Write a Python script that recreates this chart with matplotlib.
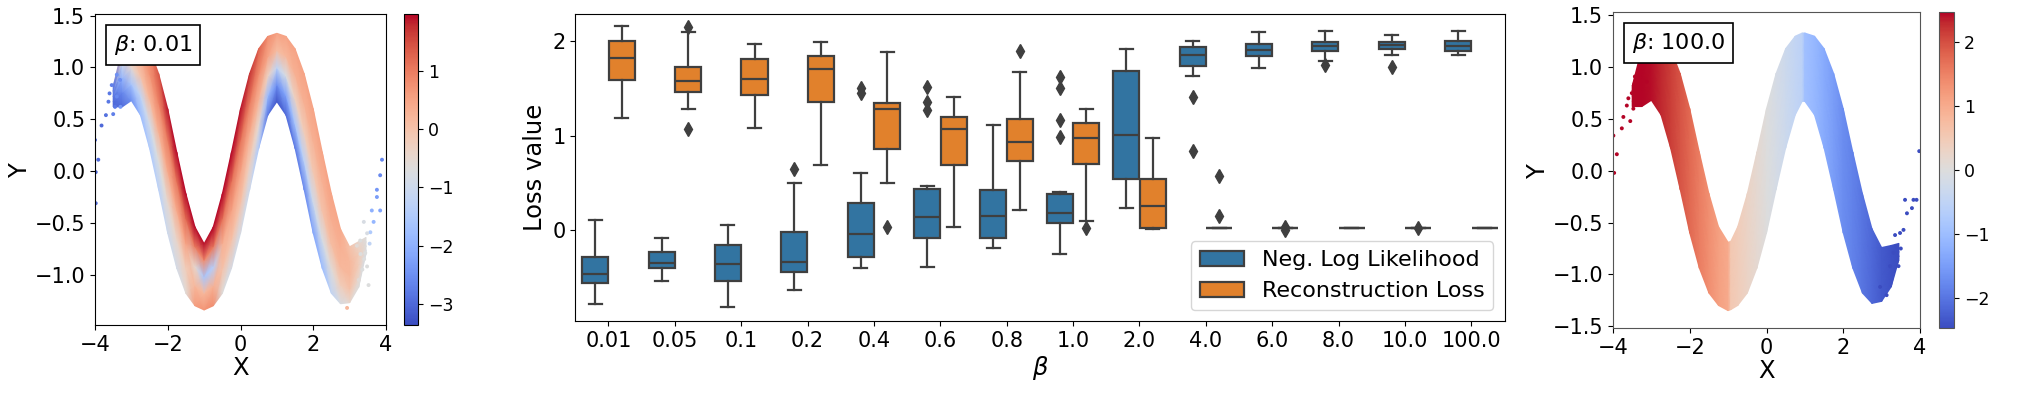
import numpy as np
import matplotlib
matplotlib.use("Agg")
import matplotlib.pyplot as plt
from matplotlib.offsetbox import AnchoredText
from matplotlib.patches import Patch

# ---------------- middle panel: box statistics ----------------
betas = ['0.01', '0.05', '0.1', '0.2', '0.4', '0.6', '0.8', '1.0', '2.0',
         '4.0', '6.0', '8.0', '10.0', '100.0']

nll_whislo = [-0.777, -0.537, -0.809, -0.629, -0.396, -0.385, -0.184, -0.251, 0.240,
              1.629, 1.714, 1.795, 1.852, 1.852]
nll_q1 = [-0.562, -0.403, -0.537, -0.442, -0.279, -0.081, -0.081, 0.078, 0.544,
          1.742, 1.848, 1.901, 1.922, 1.894]
nll_med = [-0.459, -0.350, -0.353, -0.332, -0.039, 0.141, 0.152, 0.177, 1.004,
           1.852, 1.912, 1.947, 1.958, 1.947]
nll_q3 = [-0.279, -0.226, -0.155, -0.014, 0.293, 0.438, 0.428, 0.385, 1.682,
          1.943, 1.972, 1.989, 1.989, 2.000]
nll_whishi = [0.113, -0.081, 0.057, 0.495, 0.608, 0.470, 1.117, 0.403, 1.922,
              2.007, 2.102, 2.113, 2.064, 2.113]
nll_fliers = [[], [], [], [0.647], [1.502, 1.452], [1.512, 1.357, 1.269], [],
              [1.618, 1.505, 1.163, 0.986], [], [1.413, 0.834], [], [1.746], [1.724], []]

rec_whislo = [1.184, 1.283, 1.078, 0.686, 0.502, 0.035, 0.216, 0.099, 0.014,
              0.020, 0.018, 0.018, 0.018, 0.018]
rec_q1 = [1.594, 1.466, 1.435, 1.360, 0.862, 0.686, 0.735, 0.703, 0.021,
          0.020, 0.018, 0.018, 0.018, 0.018]
rec_med = [1.820, 1.580, 1.604, 1.703, 1.283, 1.067, 0.936, 0.972, 0.251,
           0.020, 0.018, 0.018, 0.018, 0.018]
rec_q3 = [2.007, 1.724, 1.816, 1.848, 1.350, 1.201, 1.173, 1.138, 0.544,
          0.020, 0.018, 0.018, 0.018, 0.018]
rec_whishi = [2.159, 2.095, 1.968, 1.996, 1.890, 1.413, 1.671, 1.286, 0.972,
              0.020, 0.018, 0.018, 0.018, 0.018]
rec_fliers = [[], [2.152, 1.071], [], [], [0.035], [], [1.898], [0.028], [],
              [0.572, 0.155], [0.030, 0.005], [], [0.018], []]

series_names = ['Neg. Log Likelihood', 'Reconstruction Loss']

# ---------------- left panel (beta = 0.01): band profile ----------------
xk_a = [-3.5, -3.25, -3.0, -2.75, -2.5, -2.25, -2.0, -1.75, -1.5, -1.25, -1.0, -0.75, -0.5, -0.25,
        0.0, 0.25, 0.5, 0.75, 1.0, 1.25, 1.5, 1.75, 2.0, 2.25, 2.5, 2.75, 3.0, 3.25, 3.45]
yc_a = [0.72, 0.90, 1.0, 0.92, 0.70, 0.38, 0.0, -0.38, -0.70, -0.92, -1.02, -0.92, -0.70, -0.38,
        0.0, 0.38, 0.70, 0.92, 1.0, 0.92, 0.70, 0.38, 0.0, -0.38, -0.70, -0.92, -1.0, -0.90, -0.72]
hw_a = [0.10, 0.28, 0.32, 0.38, 0.48, 0.56, 0.60, 0.56, 0.48, 0.38, 0.32, 0.38, 0.48, 0.56,
        0.60, 0.56, 0.48, 0.38, 0.33, 0.38, 0.48, 0.56, 0.60, 0.56, 0.48, 0.36, 0.27, 0.22, 0.08]
# loss value colours across the band: bottom edge, lower middle, centre, upper middle, top edge
cbot_a = [-3.0, -3.0, -2.5, -1.8, -1.5, -1.3, -1.0, -0.9, -0.6, 0.6, 0.7, 0.8, -0.7, -0.9,
          -0.9, -1.0, -1.5, -2.8, -3.2, -3.0, -2.8, -2.6, -2.2, -1.8, -1.2, -0.8, -0.5, -0.7, -0.8]
clow_a = [-3.0, -2.6, -1.6, -1.2, -0.9, -0.7, -0.5, -0.4, -0.2, 0.2, 0.2, 0.3, 0.0, 0.0,
          0.0, -0.2, -0.5, -1.8, -2.5, -2.2, -1.6, -1.3, -1.0, -0.8, -0.6, -0.2, 0.0, -0.4, -0.8]
ccen_a = [-2.9, -1.9, -0.5, 0.0, 0.2, 0.3, 0.4, 0.4, 0.5, -0.5, -1.6, -1.4, 0.3, 0.5,
          0.5, 0.4, 0.3, -0.3, -1.2, -0.8, -0.3, -0.2, -0.1, 0.0, 0.1, 0.2, 0.2, -0.2, -0.7]
cupp_a = [-2.8, -1.0, 0.2, 0.4, 0.7, 0.9, 1.0, 1.1, 1.2, 1.0, 0.8, 1.0, 1.1, 1.1,
          1.1, 1.0, 0.8, 0.5, 0.1, 0.2, 0.3, 0.3, 0.3, 0.3, 0.35, 0.3, 0.2, -0.2, -0.7]
ctop_a = [-2.8, 0.2, 0.5, 0.6, 0.9, 1.4, 1.9, 1.97, 1.97, 1.97, 1.9, 1.97, 1.97, 1.97,
          1.9, 1.7, 1.3, 0.8, 0.5, 0.5, 0.5, 0.5, 0.5, 0.5, 0.5, 0.4, 0.0, -0.5, -0.7]
# sparse points in the tails
tx_a = [-4.0, -3.91, -3.98, -3.98, -3.82, -3.70, -3.63, -3.45, -3.54, -3.40, -3.31, -3.40,
        -3.60, -3.50, -3.30,
        3.89, 3.84, 3.75, 3.75, 3.84, 3.61, 3.66, 3.57, 3.39, 3.48, 3.29, 3.43, 3.48, 3.52,
        2.93, 3.20, 3.30, 3.35, 3.25, 3.55, 3.40]
ty_a = [0.30, 0.11, -0.01, -0.31, 0.44, 0.54, 0.67, 0.62, 0.83, 0.72, 0.88, 0.93,
        0.75, 0.55, 0.62,
        0.11, -0.04, -0.18, -0.25, -0.38, -0.38, -0.49, -0.59, -0.49, -0.60, -0.67, -0.79,
        -0.92, -1.10, -1.32, -0.72, -0.80, -0.95, -1.05, -0.70, -0.85]
tc_a = [-3.0, -3.0, -3.0, -3.0, -3.0, -2.9, -2.8, -2.8, -2.7, -2.6, -2.5, -2.5,
        -2.8, -2.7, -2.4,
        -2.6, -2.6, -2.4, -2.3, -2.2, -2.0, -1.9, -1.5, -0.8, -0.8, -0.7, -0.7,
        -0.7, -0.7, 0.2, -0.6, -0.7, -0.7, -0.6, -1.2, -0.7]

# ---------------- right panel (beta = 100.0) ----------------
xk_b = [-3.5, -3.25, -3.0, -2.75, -2.5, -2.25, -2.0, -1.75, -1.5, -1.25, -1.0, -0.93, -0.75, -0.5,
        -0.25, 0.0, 0.25, 0.5, 0.75, 0.93, 1.0, 1.25, 1.5, 1.75, 2.0, 2.25, 2.5, 2.75, 3.0, 3.25, 3.45]
yc_b = [0.72, 0.90, 1.0, 0.92, 0.70, 0.38, 0.0, -0.38, -0.70, -0.92, -1.02, -1.01, -0.92, -0.70,
        -0.38, 0.0, 0.38, 0.70, 0.92, 1.0, 1.0, 0.92, 0.70, 0.38, 0.0, -0.38, -0.70, -0.92, -1.0,
        -0.92, -0.78]
hw_b = [0.10, 0.28, 0.32, 0.38, 0.48, 0.56, 0.60, 0.56, 0.48, 0.38, 0.33, 0.33, 0.38, 0.48,
        0.56, 0.60, 0.56, 0.48, 0.38, 0.33, 0.33, 0.38, 0.48, 0.56, 0.60, 0.56, 0.48, 0.36, 0.26,
        0.20, 0.08]
cv_b = [2.46, 2.46, 2.42, 2.30, 2.15, 1.95, 1.75, 1.55, 1.35, 1.15, 1.0, 0.55, 0.45, 0.30,
        0.15, 0.0, -0.15, -0.30, -0.45, -0.55, -0.95, -1.10, -1.30, -1.50, -1.70, -1.85,
        -2.0, -2.15, -2.30, -2.40, -2.47]
tx_b = [-3.99, -3.90, -3.97, -3.77, -3.73, -3.64, -3.47, -3.38, -3.51, -3.30, -3.43, -3.12,
        -3.60, -3.55,
        3.83, 3.91, 3.98, 3.79, 3.61, 3.66, 3.57, 3.48, 3.39, 3.31, 3.44, 3.22, 3.13, 2.96,
        3.50, 3.35]
ty_b = [0.34, 0.16, -0.02, 0.41, 0.52, 0.63, 0.60, 0.71, 0.75, 0.83, 0.91, 0.86,
        0.70, 0.48,
        -0.28, -0.28, 0.19, -0.36, -0.28, -0.41, -0.57, -0.60, -0.73, -0.79, -0.92, -0.92,
        -1.20, -1.12, -0.75, -0.62]
tc_b = [2.46, 2.46, 2.46, 2.46, 2.46, 2.46, 2.46, 2.46, 2.46, 2.46, 2.46, 2.46,
        2.46, 2.46,
        -2.47, -2.47, -2.47, -2.47, -2.47, -2.47, -2.47, -2.47, -2.47, -2.47, -2.47, -2.47,
        -2.47, -2.47, -2.47, -2.47]

# ---------------- figure ----------------
W, H = 2022, 398
fig = plt.figure(figsize=(W / 100, H / 100), dpi=100)


def rect(l, t, r, b):
    return [l / W, 1 - b / H, (r - l) / W, (b - t) / H]


TICK = 15
LAB = 17.5
CB_TICK = 12.5
BOXTXT = 16


def band(ax, xk, yc, hw, layers, vmin, vmax):
    xk = np.asarray(xk)
    yc = np.asarray(yc)
    hw = np.asarray(hw)
    offs = np.array([-1.0, -0.5, 0.0, 0.5, 1.0])
    X = np.tile(xk, (5, 1))
    Y = yc[None, :] + offs[:, None] * hw[None, :]
    C = np.vstack([np.asarray(c, float) for c in layers])
    return ax.pcolormesh(X, Y, C, shading='gouraud', cmap='coolwarm',
                         vmin=vmin, vmax=vmax, rasterized=True)


def scatter_panel(ax, cax, mesh, tx, ty, tc, vmin, vmax, ylim, label, cticks, spine_col):
    ax.scatter(tx, ty, c=tc, cmap='coolwarm', vmin=vmin, vmax=vmax, s=8, linewidths=0)
    ax.set_xticks([-4, -2, 0, 2, 4])
    ax.set_yticks([-1.5, -1.0, -0.5, 0.0, 0.5, 1.0, 1.5])
    ax.set_yticklabels(['−1.5', '−1.0', '−0.5', '0.0', '0.5', '1.0', '1.5'])
    ax.set_xlim(-4, 4)
    ax.set_ylim(*ylim)
    ax.tick_params(labelsize=TICK)
    for s in ax.spines.values():
        s.set_edgecolor(spine_col)
    ax.set_xlabel('X', fontsize=LAB, labelpad=1)
    ax.set_ylabel('Y', fontsize=LAB, labelpad=2)
    at = AnchoredText(label, loc='upper left', prop=dict(size=BOXTXT), borderpad=0.5, pad=0.35)
    at.patch.set_boxstyle('square,pad=0')
    at.patch.set_edgecolor('black')
    at.patch.set_linewidth(1.2)
    ax.add_artist(at)
    cb = fig.colorbar(mesh, cax=cax, ticks=cticks)
    cb.outline.set_edgecolor(spine_col)
    cb.ax.tick_params(labelsize=CB_TICK)


# left
axL = fig.add_axes(rect(95, 14, 386, 325))
caxL = fig.add_axes(rect(404, 14, 418, 325))
vminL, vmaxL = -3.36, 1.97
meshL = band(axL, xk_a, yc_a, hw_a, [cbot_a, clow_a, ccen_a, cupp_a, ctop_a], vminL, vmaxL)
scatter_panel(axL, caxL, meshL, tx_a, ty_a, tc_a, vminL, vmaxL, (-1.485, 1.516),
              r'$\beta$: 0.01', [-3, -2, -1, 0, 1], 'black')

# right
axR = fig.add_axes(rect(1613, 12.3, 1920, 328.3))
caxR = fig.add_axes(rect(1939, 12.3, 1954, 328.3))
vminR, vmaxR = -2.47, 2.46
meshR = band(axR, xk_b, yc_b, hw_b, [cv_b] * 5, vminR, vmaxR)
scatter_panel(axR, caxR, meshR, tx_b, ty_b, tc_b, vminR, vmaxR, (-1.52, 1.53),
              r'$\beta$: 100.0', [-2, -1, 0, 1, 2], '#555555')

# middle boxplot
axM = fig.add_axes(rect(575.3, 14, 1504.5, 321.3))
blue, orange, gray = '#3274a1', '#e1812c', '#3f3f3f'
LW = 1.6


def stats(lo, q1, med, q3, hi, fl):
    return [dict(whislo=a, q1=b, med=c, q3=d, whishi=e, fliers=f)
            for a, b, c, d, e, f in zip(lo, q1, med, q3, hi, fl)]


pos = np.arange(len(betas))
for st, off, col in [(stats(nll_whislo, nll_q1, nll_med, nll_q3, nll_whishi, nll_fliers), -0.2, blue),
                     (stats(rec_whislo, rec_q1, rec_med, rec_q3, rec_whishi, rec_fliers), 0.2, orange)]:
    axM.bxp(st, positions=pos + off, widths=0.392, patch_artist=True, manage_ticks=False,
            boxprops=dict(facecolor=col, edgecolor=gray, linewidth=LW),
            medianprops=dict(color=gray, linewidth=LW),
            whiskerprops=dict(color=gray, linewidth=LW),
            capprops=dict(color=gray, linewidth=LW),
            flierprops=dict(marker='d', markerfacecolor=gray, markeredgecolor=gray,
                            markersize=7, linestyle='none'))
axM.set_xlim(-0.5, len(betas) - 0.5)
axM.set_ylim(-0.965, 2.29)
axM.set_xticks(pos)
axM.set_xticklabels(betas)
axM.set_yticks([0, 1, 2])
axM.tick_params(labelsize=TICK)
axM.set_xlabel(r'$\beta$', fontsize=LAB, labelpad=2)
axM.set_ylabel('Loss value', fontsize=LAB, labelpad=4)
handles = [Patch(facecolor=blue, edgecolor=gray, linewidth=LW, label=series_names[0]),
           Patch(facecolor=orange, edgecolor=gray, linewidth=LW, label=series_names[1])]
axM.legend(handles=handles, loc='lower right', fontsize=16)

fig.savefig('out.png', dpi=100)
